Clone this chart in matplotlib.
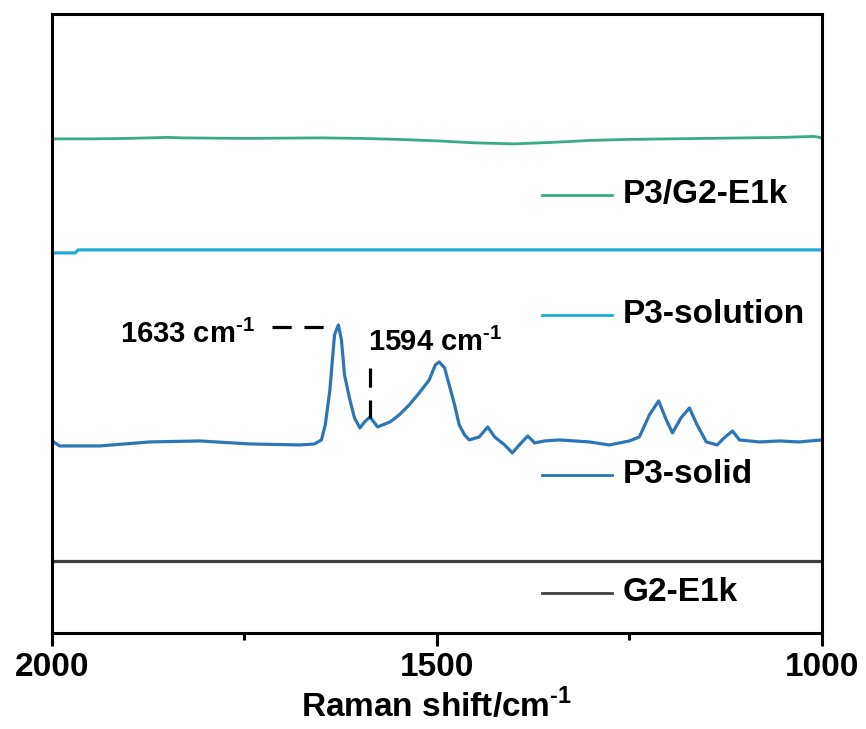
"""raman spektren: G2-E1k, P3-solid, P3-solution, P3/G2-E1k (gestapelt, offset)."""
import matplotlib
matplotlib.use('Agg')
import matplotlib.pyplot as plt
from matplotlib.ticker import MultipleLocator

plt.rcParams['font.family'] = ['Liberation Sans', 'DejaVu Sans']
plt.rcParams['font.weight'] = 'bold'
plt.rcParams['axes.labelweight'] = 'bold'
plt.rcParams['mathtext.fontset'] = 'custom'
plt.rcParams['mathtext.rm'] = 'Liberation Sans:bold'
plt.rcParams['mathtext.bf'] = 'Liberation Sans:bold'

# --- daten (intensität mit offset, a.u.) ---
g2_shift = [2000, 1800, 1600, 1400, 1200, 1000]
g2_int = [72, 72, 72, 72, 72, 72]

solid_shift = [2000, 1990, 1938, 1873, 1808, 1743, 1678, 1659, 1650, 1645, 1639,
               1633, 1628, 1624, 1620, 1613, 1607, 1600, 1594, 1587, 1577, 1561,
               1549, 1536, 1523, 1510, 1502, 1497, 1490, 1484, 1477, 1471, 1464,
               1458, 1445, 1434, 1425, 1412, 1402, 1393, 1382, 1373, 1360, 1341,
               1321, 1302, 1276, 1250, 1237, 1224, 1212, 1202, 1194, 1183, 1172,
               1162, 1150, 1136, 1127, 1116, 1107, 1081, 1055, 1030, 1000]
solid_int = [192, 187, 187, 191, 192, 189, 188, 189, 193, 208, 243,
             298, 308, 293, 258, 233, 215, 205, 211, 216, 206, 211,
             218, 228, 240, 253, 268, 271, 265, 248, 228, 208, 198,
             193, 196, 206, 196, 188, 180, 188, 197, 190, 192, 193,
             192, 191, 188, 192, 196, 218, 232, 213, 200, 215, 225,
             208, 191, 188, 195, 202, 193, 191, 192, 191, 193]

solution_shift = [2000, 1970, 1966, 1500, 1000]
solution_int = [380, 380, 383, 383, 383]

blend_shift = [2000, 1950, 1900, 1850, 1830, 1750, 1650, 1600, 1550, 1500, 1450,
               1400, 1350, 1300, 1250, 1150, 1050, 1010, 1000]
blend_int = [494, 494, 494.5, 495.5, 495, 494.5, 495, 494.5, 493.5, 492, 490,
             489, 490.5, 492.5, 493.5, 494.5, 495.5, 496.5, 495]

# farben
C_G2 = '#404040'
C_SOLID = '#2e75b6'
C_SOL = '#1eacd4'
C_BLEND = '#3aaa88'

SUP = r'$^{\text{-1}}$'


def main():
    fig = plt.figure(figsize=(8.66, 7.29), dpi=100)
    ax = fig.add_axes([0.060, 0.1317, 0.889, 0.8493])

    ax.plot(g2_shift, g2_int, color=C_G2, lw=2.3)
    ax.plot(solid_shift, solid_int, color=C_SOLID, lw=2.3)
    ax.plot(solution_shift, solution_int, color=C_SOL, lw=2.3)
    ax.plot(blend_shift, blend_int, color=C_BLEND, lw=2.0)

    # peak markierungen
    ax.plot([1714, 1633], [306, 306], color='black', lw=2.3,
            dashes=(6, 4))
    ax.plot([1587, 1587], [265, 215], color='black', lw=2.3,
            dashes=(6, 4))
    ax.text(1736, 299, '1633 cm' + SUP, ha='right', va='center', fontsize=21)
    ax.text(1590, 291, '1594 cm' + SUP, ha='left', va='center', fontsize=21)

    # "legende" von hand, eintraege stehen ungleichmaessig verteilt
    entries = [('P3/G2-E1k', C_BLEND, 438),
               ('P3-solution', C_SOL, 318),
               ('P3-solid', C_SOLID, 158),
               ('G2-E1k', C_G2, 40)]
    for label, col, y in entries:
        ax.plot([1364, 1272], [y, y], color=col, lw=2.0)
        ax.text(1259, y, label, ha='left', va='center', fontsize=24)

    ax.set_xlim(2000, 1000)
    ax.set_ylim(0, 619)
    ax.set_yticks([])
    ax.xaxis.set_major_locator(MultipleLocator(500))
    ax.xaxis.set_minor_locator(MultipleLocator(250))
    ax.tick_params(axis='x', which='major', direction='out', length=9.5,
                   width=2.2, labelsize=24, pad=4)
    ax.tick_params(axis='x', which='minor', direction='out', length=5,
                   width=2.2)
    for sp in ax.spines.values():
        sp.set_linewidth(2.2)

    ax.set_xlabel('Raman shift/cm' + SUP, fontsize=24,
                  fontweight='bold', labelpad=4)

    fig.savefig('out.png', dpi=100)


if __name__ == '__main__':
    main()
